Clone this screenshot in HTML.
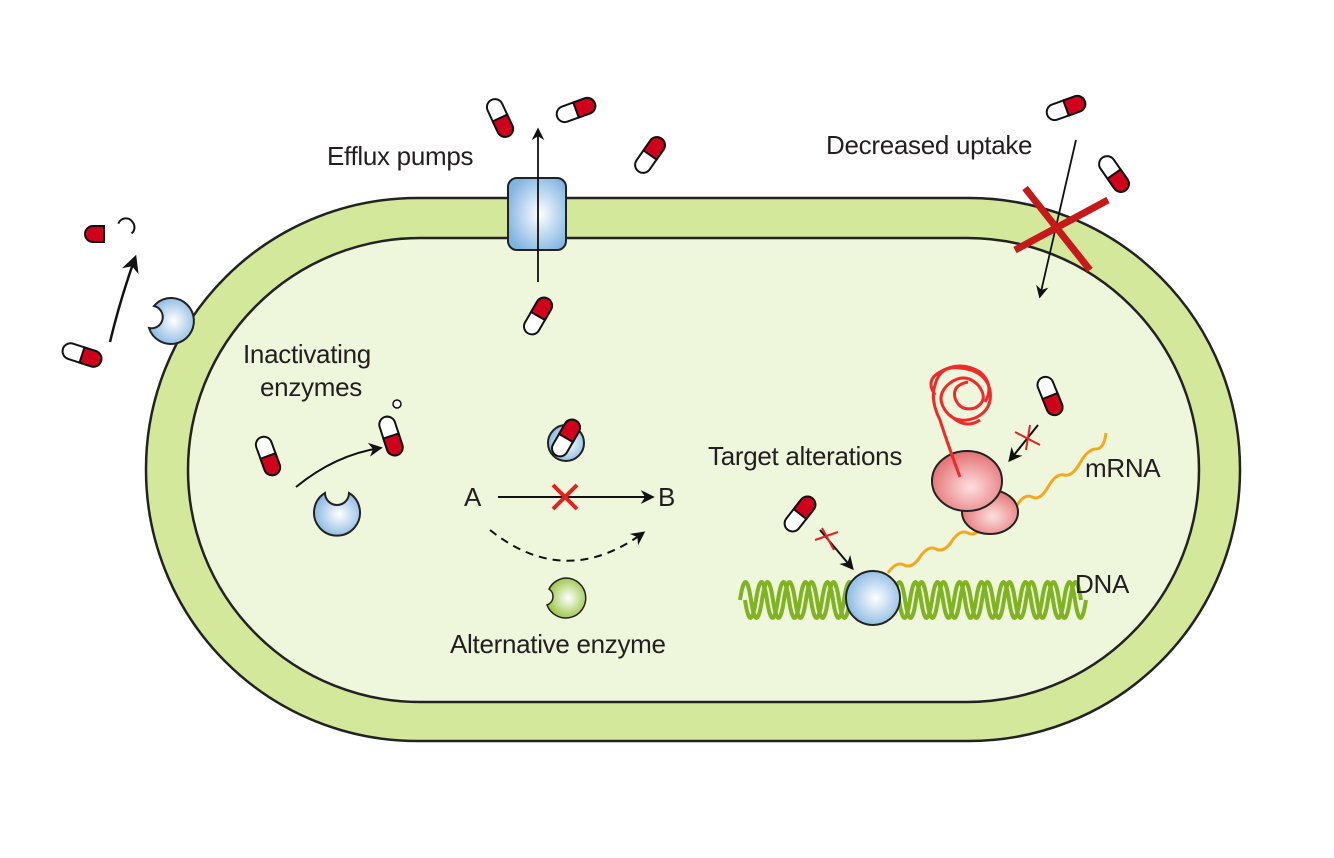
<!DOCTYPE html>
<html><head><style>html,body{margin:0;padding:0;background:#fff}svg{display:block}text{font-family:"Liberation Sans",sans-serif;font-size:26px;fill:#231f20;letter-spacing:-0.3px}</style></head><body>
<svg width="1334" height="858" viewBox="0 0 1334 858" xmlns="http://www.w3.org/2000/svg">
<defs>
<radialGradient id="bl" cx="0.55" cy="0.5" r="0.6"><stop offset="0" stop-color="#ffffff"/><stop offset="1" stop-color="#7fb3e0"/></radialGradient>
<radialGradient id="gr" cx="0.55" cy="0.5" r="0.6"><stop offset="0" stop-color="#ffffff"/><stop offset="1" stop-color="#8fbf2f"/></radialGradient>
<radialGradient id="rd" cx="0.55" cy="0.6" r="0.6"><stop offset="0" stop-color="#fde0e0"/><stop offset="1" stop-color="#e46f72"/></radialGradient>
<marker id="ah" viewBox="0 0 10 10" refX="8" refY="5" markerWidth="7" markerHeight="7" orient="auto"><path d="M0,0 L10,5 L0,10 L3,5 z" fill="#111"/></marker>
<g id="pill"><rect x="-20" y="-8" width="40" height="16" rx="8" fill="#fff" stroke="#111" stroke-width="2"/><path d="M0,-8 H12 A8,8 0 0 1 12,8 H0 z" fill="#d0021b" stroke="#111" stroke-width="2"/></g>
</defs>
<rect x="146" y="198" width="1094" height="543" rx="271" fill="#d3e89a" stroke="#222" stroke-width="2.5"/>
<rect x="188" y="238" width="1011" height="464" rx="232" fill="#eef6dc" stroke="#222" stroke-width="2.5"/>
<rect x="508" y="178" width="58" height="72" rx="9" fill="url(#bl)" stroke="#222" stroke-width="2"/>
<line x1="538" y1="282" x2="538" y2="130" stroke="#111" stroke-width="1.8" marker-end="url(#ah)"/>
<use href="#pill" transform="translate(500,118) rotate(65)"/>
<use href="#pill" transform="translate(576,110) rotate(-20)"/>
<use href="#pill" transform="translate(650,155) rotate(-55)"/>
<use href="#pill" transform="translate(538,316) rotate(-60)"/>
<use href="#pill" transform="translate(1066,108) rotate(-20)"/>
<use href="#pill" transform="translate(1114,174) rotate(55)"/>
<use href="#pill" transform="translate(82,355) rotate(18)"/>
<use href="#pill" transform="translate(268,456) rotate(70)"/>
<use href="#pill" transform="translate(391,436) rotate(72)"/>
<use href="#pill" transform="translate(1050,396) rotate(68)"/>
<use href="#pill" transform="translate(800,514) rotate(-52)"/>
<path d="M104,226 H93 A8,8 0 0 0 93,242 H104 z" fill="#d0021b" stroke="#111" stroke-width="2"/>
<path d="M122,218 A8,8 0 0 1 134,226 A8,8 0 0 1 126,234" fill="none" stroke="#111" stroke-width="2" transform="rotate(-40 128 226)"/>
<circle cx="397" cy="404" r="4" fill="#fff" stroke="#111" stroke-width="1.5"/>
<path d="M110,342 Q120,300 135,258" fill="none" stroke="#111" stroke-width="2.5" marker-end="url(#ah)"/>
<path d="M172,298 A23,23 0 1 1 149,328 A11,11 0 0 0 154,306 A23,23 0 0 1 172,298 z" fill="url(#bl)" stroke="#222" stroke-width="2"/>
<text x="243" y="363">Inactivating</text>
<text x="260" y="396">enzymes</text>
<path d="M296,487 Q335,455 380,448" fill="none" stroke="#111" stroke-width="2" marker-end="url(#ah)"/>
<path d="M325,493 A23,23 0 1 0 349,493 A12,12 0 0 1 325,493 z" fill="url(#bl)" stroke="#222" stroke-width="2"/>
<circle cx="566" cy="443" r="18" fill="url(#bl)" stroke="#222" stroke-width="2"/>
<use href="#pill" transform="translate(566,438) rotate(-60)"/>
<text x="464" y="506">A</text><text x="658" y="506">B</text>
<line x1="498" y1="497" x2="652" y2="497" stroke="#111" stroke-width="2" marker-end="url(#ah)"/>
<path d="M553,485 L577,509 M577,485 L553,509" stroke="#e0231f" stroke-width="4"/>
<path d="M490,530 Q565,590 643,533" fill="none" stroke="#111" stroke-width="2" stroke-dasharray="8,6" marker-end="url(#ah)"/>
<path d="M566,578 A20,20 0 1 1 547,605 A9,9 0 0 0 549,589 A20,20 0 0 1 566,578 z" fill="url(#gr)" stroke="#222" stroke-width="1.5"/>
<text x="450" y="653">Alternative enzyme</text>
<text x="327" y="165">Efflux pumps</text>
<text x="826" y="154">Decreased uptake</text>
<line x1="1076" y1="140" x2="1040" y2="296" stroke="#111" stroke-width="1.8" marker-end="url(#ah)"/>
<path d="M1015,250 L1108,200 M1025,188 L1090,270" stroke="#c61a1a" stroke-width="7"/>
<path d="M740,600 q5.5,-36 11,0 t11,0 t11,0 t11,0 t11,0 t11,0 t11,0 t11,0 t11,0 t11,0 t11,0 t11,0 t11,0 t11,0 t11,0 t11,0 t11,0 t11,0 t11,0 t11,0 t11,0 t11,0 t11,0 t11,0 t11,0 t11,0 t11,0 t11,0 t11,0 t11,0 t11,0" fill="none" stroke="#7fb321" stroke-width="4"/>
<path d="M745,600 q5.5,36 11,0 t11,0 t11,0 t11,0 t11,0 t11,0 t11,0 t11,0 t11,0 t11,0 t11,0 t11,0 t11,0 t11,0 t11,0 t11,0 t11,0 t11,0 t11,0 t11,0 t11,0 t11,0 t11,0 t11,0 t11,0 t11,0 t11,0 t11,0 t11,0 t11,0 t11,0" fill="none" stroke="#7fb321" stroke-width="4"/>
<text x="1075" y="593">DNA</text>
<path d="M888,573 q8,-12 16,-8 t16,-8 t16,-8 t16,-8 t16,-8 t16,-8 t16,-8 t16,-10 t16,-10 t16,-10 t16,-12 t16,-12 t16,-14 t10,-16" fill="none" stroke="#f5a81c" stroke-width="3"/>
<text x="1085" y="477">mRNA</text>
<circle cx="873" cy="598" r="27" fill="url(#bl)" stroke="#222" stroke-width="2"/>
<path d="M820,530 L852,568" stroke="#111" stroke-width="2" marker-end="url(#ah)"/>
<path d="M815,540 L838,532 M822,528 L834,550" stroke="#e0231f" stroke-width="2"/>
<ellipse cx="990" cy="512" rx="28" ry="22" fill="url(#rd)" stroke="#222" stroke-width="2"/>
<ellipse cx="967" cy="481" rx="35" ry="30" fill="url(#rd)" stroke="#222" stroke-width="2"/>
<path d="M960,477 Q948,445 940,420 Q930,400 935,385 Q940,365 960,368 Q985,370 990,390 Q993,410 975,418 Q955,425 945,410 Q935,395 950,383 Q965,372 978,385 Q990,400 975,408 Q960,412 955,398 Q952,385 968,382 M935,395 Q925,380 940,372 Q960,360 980,372 Q995,385 985,402 M950,415 Q965,430 980,420" fill="none" stroke="#ee2a2a" stroke-width="3"/>
<path d="M1038,425 L1010,460" stroke="#111" stroke-width="2" marker-end="url(#ah)"/>
<path d="M1015,432 L1040,445 M1030,425 L1026,450" stroke="#e0231f" stroke-width="2"/>
<text x="708" y="465">Target alterations</text>
</svg>
</body></html>
